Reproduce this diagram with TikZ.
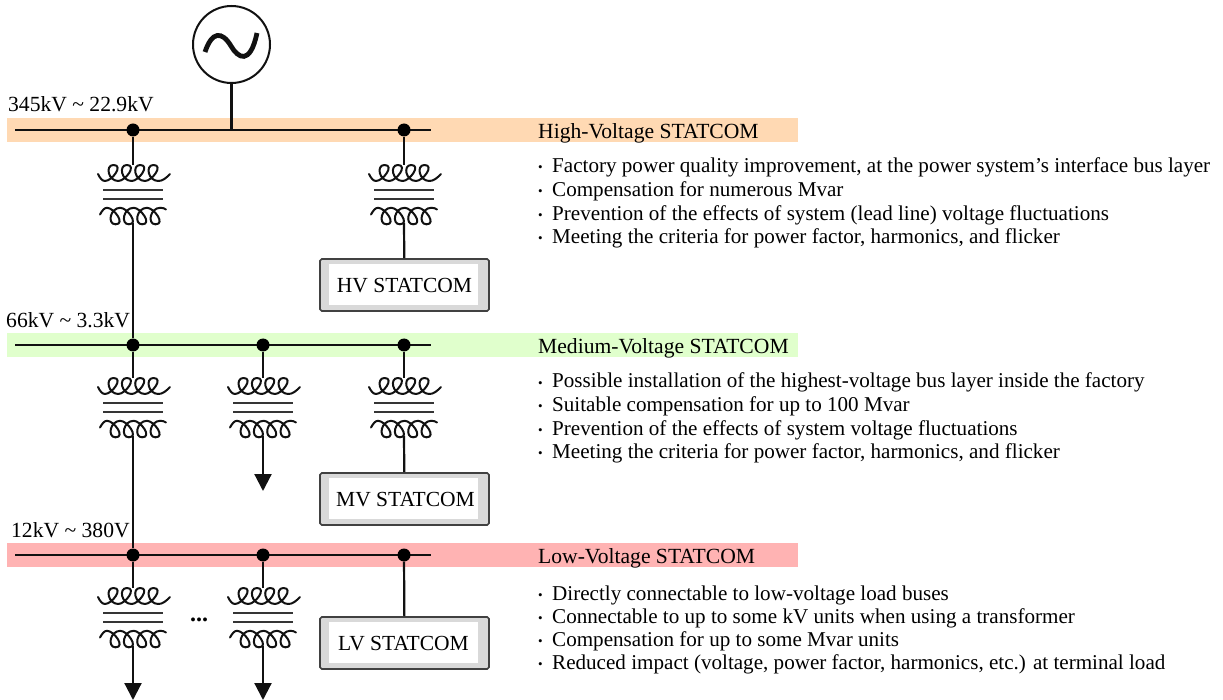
\documentclass[tikz,border=0pt]{standalone}
\usepackage{fontspec}
\setmainfont{Liberation Serif}
\usetikzlibrary{arrows.meta}
\definecolor{bandhv}{HTML}{FFD9B3}
\definecolor{bandmv}{HTML}{E0FFCC}
\definecolor{bandlv}{HTML}{FFB3B3}
\definecolor{boxgray}{HTML}{D9D9D9}
\definecolor{ink}{HTML}{111111}
\tikzset{
  wire/.style={draw=ink,line width=2.2pt},
  busline/.style={draw=ink,line width=2.4pt},
  junction/.style={circle,fill=black,draw=none,minimum size=13pt,inner sep=0pt},
  band/.style={draw=none,minimum height=24pt,minimum width=791pt,inner sep=0pt,anchor=west},
  lbl/.style={anchor=base west,inner sep=0pt,font=\fontsize{21.6}{22}\selectfont},
  bul/.style={anchor=base west,inner sep=0pt,font=\fontsize{21.1}{22}\selectfont},
  bdot/.style={anchor=base west,inner sep=0pt,font=\fontsize{13}{13}\selectfont},
  stat/.style={draw=ink!80,line width=1.6pt,rounded corners=1.8pt,fill=boxgray,minimum width=169pt,minimum height=52pt,inner sep=0pt},
  statin/.style={fill=white,draw=none,minimum width=149pt,minimum height=41pt,inner sep=0pt},
  stattxt/.style={inner sep=0pt,font=\fontsize{21.5}{22}\selectfont},
  loadarrow/.style={draw=ink,line width=2.2pt,-{Triangle[length=17pt,width=17pt]}},
  coilstroke/.style={draw=ink,line width=2pt,line cap=round,line join=round},
  xfmr/.pic={
    \coordinate (-top) at (0,165);
    \coordinate (-bot) at (0,223);
    \draw[coilstroke] (-35,174) .. controls (-33,178) and (-31,181) .. (-28,181);
    \draw[coilstroke] (25.3,181) .. controls (30,181) and (33,178) .. (37,174);
    \draw[coilstroke] (-33,214.5) .. controls (-31,211) and (-29,207.8) .. (-26,207.8);
    \draw[coilstroke] (27.3,207.8) .. controls (29.5,207.8) and (31.5,208.3) .. (33,209.5);
    \foreach \k in {0,1,2,3}{
      \draw[coilstroke,xshift=\k*13.33pt]
        (-28,181) .. controls (-21,181) and (-9,165) .. (-19.5,165)
        .. controls (-28,165) and (-25,181) .. (-14.67,181);
      \draw[coilstroke,xshift=\k*13.33pt]
        (-26,207.8) .. controls (-19,207.8) and (-7,224.3) .. (-17.5,224.3)
        .. controls (-26,224.3) and (-23,207.8) .. (-12.67,207.8);
    }
    \draw[ink!85,line width=2pt] (-30,190) -- (30,190);
    \draw[ink!85,line width=2pt] (-30,199) -- (30,199);
  }
}
\begin{document}
\begin{tikzpicture}[x=1pt,y=-1pt]
\useasboundingbox (0,0) rectangle (1223,700);
% bands
\node[band,fill=bandhv] (bandA) at (7,130) {};
\node[band,fill=bandmv] (bandB) at (7,345) {};
\node[band,fill=bandlv] (bandC) at (7,555) {};
% bus ends
\coordinate (a0) at (15,130); \coordinate (a1) at (431,130);
\coordinate (b0) at (15,345); \coordinate (b1) at (431,345);
\coordinate (c0) at (15,555); \coordinate (c1) at (431,555);
\draw[busline] (a0) -- (a1);
\draw[busline] (b0) -- (b1);
\draw[busline] (c0) -- (c1);
% generator
\node[circle,draw=ink,line width=2pt,fill=white,minimum size=77pt,inner sep=0pt] (gen) at (231.5,44.5) {};
\coordinate (gtap) at (231.5,130);
\draw[wire] (gen) -- (gtap);
\draw[ink,line width=4.8pt] (205,52) .. controls (212,31) and (222,31) .. (231,46) .. controls (238,58) and (250,66) .. (257,33);
% junctions
\node[junction] (ja1) at (133,130) {};
\node[junction] (ja3) at (404,130) {};
\node[junction] (jb1) at (133,345) {};
\node[junction] (jb2) at (263,345) {};
\node[junction] (jb3) at (404,345) {};
\node[junction] (jc1) at (133,555) {};
\node[junction] (jc2) at (263,555) {};
\node[junction] (jc3) at (404,555) {};
% transformers
\pic (ta1) at (133,0) {xfmr};
\pic (ta3) at (404,0) {xfmr};
\pic (tb1) at (133,213) {xfmr};
\pic (tb2) at (263,213) {xfmr};
\pic (tb3) at (404,213) {xfmr};
\pic (tc1) at (133,423) {xfmr};
\pic (tc2) at (263,423) {xfmr};
% STATCOM boxes
\node[stat] (hv) at (404.5,285) {};
\node[statin] (hvi) at (403.5,284.5) {};
\node[stattxt] (hvt) at (404.5,286) {HV STATCOM};
\node[stat] (mv) at (404.5,499) {};
\node[statin] (mvi) at (403.5,498.5) {};
\node[stattxt] (mvt) at (405.5,500) {MV STATCOM};
\node[stat] (lv) at (404.5,643) {};
\node[statin] (lvi) at (403.5,642.5) {};
\node[stattxt] (lvt) at (403.5,644) {LV STATCOM};
% load ends
\coordinate (lb) at (263,491);
\coordinate (lc1) at (133,700);
\coordinate (lc2) at (263,700);
% connectors
\draw[wire] (ja1) -- (ta1-top);
\draw[wire] (ta1-bot) -- (jb1);
\draw[wire] (ja3) -- (ta3-top);
\draw[wire] (ta3-bot) -- (hv);
\draw[wire] (jb1) -- (tb1-top);
\draw[wire] (tb1-bot) -- (jc1);
\draw[wire] (jb2) -- (tb2-top);
\draw[loadarrow] (tb2-bot) -- (lb);
\draw[wire] (jb3) -- (tb3-top);
\draw[wire] (tb3-bot) -- (mv);
\draw[wire] (jc1) -- (tc1-top);
\draw[loadarrow] (tc1-bot) -- (lc1);
\draw[wire] (jc2) -- (tc2-top);
\draw[loadarrow] (tc2-bot) -- (lc2);
\draw[wire] (jc3) -- (lv);
% dots
\node[anchor=base,inner sep=0pt,font=\fontsize{24}{24}\selectfont\bfseries] (more) at (199,621) {...};
% voltage labels
\node[lbl] (va) at (8,112) {345kV \char`\~{} 22.9kV};
\node[lbl] (vb) at (6,328) {66kV \char`\~{} 3.3kV};
\node[lbl] (vc) at (11,537) {12kV \char`\~{} 380V};
% titles
\node[lbl] (ha) at (538,138.5) {High-Voltage STATCOM};
\node[lbl] (hb) at (538,353) {Medium-Voltage STATCOM};
\node[lbl] (hc) at (538,563) {Low-Voltage STATCOM};
% bullets
\foreach \yy/\txt in {
 173/{Factory power quality improvement, at the power system’s interface bus layer},
 197/{Compensation for numerous Mvar},
 221/{Prevention of the effects of system (lead line) voltage fluctuations},
 244/{Meeting the criteria for power factor, harmonics, and flicker},
 388/{Possible installation of the highest-voltage bus layer inside the factory},
 411/{Suitable compensation for up to 100 Mvar},
 435/{Prevention of the effects of system voltage fluctuations},
 458/{Meeting the criteria for power factor, harmonics, and flicker},
 600/{Directly connectable to low-voltage load buses},
 623/{Connectable to up to some kV units when using a transformer},
 646/{Compensation for up to some Mvar units},
 669/{Reduced impact (voltage, power factor, harmonics, etc.) at terminal load}}{
  \node[bdot] at (538,\yy-1) {•};
  \node[bul] at (552,\yy) {\txt};
}
\end{tikzpicture}
\end{document}
